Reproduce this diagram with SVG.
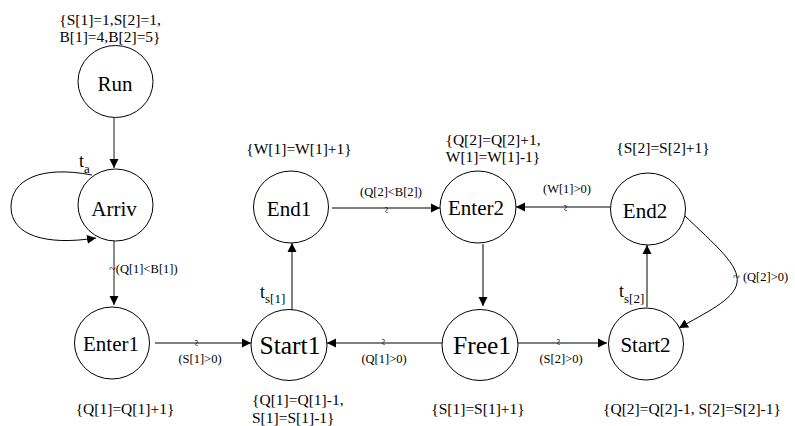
<svg xmlns="http://www.w3.org/2000/svg" width="795" height="426" viewBox="0 0 795 426" font-family="'Liberation Serif', 'DejaVu Serif', serif">
  <style>
    .node ellipse { fill: #fff; stroke: #000; stroke-width: 1; }
    .nl { font-size: 21px; text-anchor: middle; }
    .nl-big { font-size: 25.5px; text-anchor: middle; }
    .ann { font-size: 15.5px; }
    .mid { text-anchor: middle; }
    .el { font-size: 12.5px; }
    .tl { font-size: 18px; }
    .sub { font-size: 13px; }
    .edge { fill: none; stroke: #000; stroke-width: 1; }
    .edge-gray { fill: none; stroke: #6e6e6e; stroke-width: 1.6; }
    .tilde { font-size: 12px; text-anchor: middle; }
  </style>
  <defs>
    <marker id="arrow" viewBox="0 0 10 10" refX="10" refY="5" markerUnits="userSpaceOnUse" markerWidth="9" markerHeight="11" orient="auto">
      <path d="M0,0 L10,5 L0,10 z" fill="#000"/>
    </marker>
  </defs>

  <!-- initial state annotation -->
  <text class="ann mid" x="110" y="25">{S[1]=1,S[2]=1,</text>
  <text class="ann mid" x="110" y="42">B[1]=4,B[2]=5}</text>

  <!-- connectors -->
  <g id="connectors">
    <line class="edge-gray" x1="114" y1="118" x2="114" y2="168" marker-end="url(#arrow)"/>
    <path class="edge" d="M92,175 C40,165 11,180 11,207 C11,235 45,246 96,238" marker-end="url(#arrow)"/>
    <line class="edge-gray" x1="114" y1="241" x2="114" y2="305" marker-end="url(#arrow)"/>
    <line class="edge" x1="155" y1="343" x2="251" y2="343" marker-end="url(#arrow)"/>
    <line class="edge" x1="292" y1="310" x2="292" y2="243" marker-end="url(#arrow)"/>
    <line class="edge" x1="332" y1="208" x2="440" y2="208" marker-end="url(#arrow)"/>
    <line class="edge" x1="483" y1="244" x2="483" y2="306" marker-end="url(#arrow)"/>
    <line class="edge" x1="442" y1="343" x2="327" y2="343" marker-end="url(#arrow)"/>
    <line class="edge" x1="518" y1="343" x2="607" y2="343" marker-end="url(#arrow)"/>
    <line class="edge" x1="647" y1="307" x2="647" y2="245" marker-end="url(#arrow)"/>
    <line class="edge" x1="610" y1="207" x2="516" y2="207" marker-end="url(#arrow)"/>
    <path class="edge" d="M683,214 C715,245 740,265 737,283 C734,300 705,313 679,328" marker-end="url(#arrow)"/>

    <!-- transition labels -->
    <text class="tl" x="79" y="167">t<tspan class="sub" dy="6">a</tspan></text>
    <text class="tl" x="260" y="298">t<tspan class="sub" dy="5">s[1]</tspan></text>
    <text class="tl" x="619" y="297">t<tspan class="sub" dy="6">s[2]</tspan></text>

    <!-- guard conditions -->
    <text class="el" x="109" y="273">~(Q[1]&lt;B[1])</text>
    <text class="el mid" x="200" y="363">(S[1]&gt;0)</text>
    <text class="el mid" x="391" y="196">(Q[2]&lt;B[2])</text>
    <text class="el mid" x="384" y="363">(Q[1]&gt;0)</text>
    <text class="el mid" x="561" y="363">(S[2]&gt;0)</text>
    <text class="el mid" x="567" y="193">(W[1]&gt;0)</text>
    <text class="el" x="733" y="281">~ (Q[2]&gt;0)</text>

    <!-- tilde marks on horizontal connectors -->
    <text class="tilde" transform="translate(195,343) rotate(90)" dy="0.25em">~</text>
    <text class="tilde" transform="translate(385,210) rotate(90)" dy="0.25em">~</text>
    <text class="tilde" transform="translate(382,342) rotate(90)" dy="0.25em">~</text>
    <text class="tilde" transform="translate(557,342) rotate(90)" dy="0.25em">~</text>
    <text class="tilde" transform="translate(564,208) rotate(90)" dy="0.25em">~</text>
  </g>

  <!-- nodes -->
  <g id="Run" class="node">
    <ellipse cx="115.5" cy="81.5" rx="37.5" ry="36"/>
    <text class="nl" x="115" y="91">Run</text>
  </g>
  <g id="Arriv" class="node">
    <ellipse cx="115.5" cy="205" rx="37.5" ry="36"/>
    <text class="nl" x="114" y="216">Arriv</text>
  </g>
  <g id="Enter1" class="node">
    <ellipse cx="112" cy="343" rx="37.5" ry="36"/>
    <text class="nl" x="111" y="351">Enter1</text>
    <text class="ann mid" x="125" y="414">{Q[1]=Q[1]+1}</text>
  </g>
  <g id="Start1" class="node">
    <ellipse cx="289" cy="345" rx="38" ry="35.5"/>
    <text class="nl-big" x="290" y="354">Start1</text>
    <text class="ann" x="252" y="405">{Q[1]=Q[1]-1,</text>
    <text class="ann" x="252" y="423">S[1]=S[1]-1}</text>
  </g>
  <g id="End1" class="node">
    <ellipse cx="291" cy="207" rx="37.5" ry="36"/>
    <text class="nl" x="289" y="216">End1</text>
    <text class="ann mid" x="299" y="154">{W[1]=W[1]+1}</text>
  </g>
  <g id="Enter2" class="node">
    <ellipse cx="478" cy="207" rx="38" ry="36"/>
    <text class="nl" x="476" y="215">Enter2</text>
    <text class="ann mid" x="493" y="145">{Q[2]=Q[2]+1,</text>
    <text class="ann mid" x="493" y="162">W[1]=W[1]-1}</text>
  </g>
  <g id="Free1" class="node">
    <ellipse cx="480" cy="345" rx="38" ry="35.5"/>
    <text class="nl-big" x="482" y="354">Free1</text>
    <text class="ann mid" x="478" y="414">{S[1]=S[1]+1}</text>
  </g>
  <g id="End2" class="node">
    <ellipse cx="648" cy="209" rx="37.5" ry="36"/>
    <text class="nl" x="645" y="218">End2</text>
    <text class="ann mid" x="663" y="153">{S[2]=S[2]+1}</text>
  </g>
  <g id="Start2" class="node">
    <ellipse cx="646" cy="344" rx="37.5" ry="36"/>
    <text class="nl" x="645.5" y="352">Start2</text>
    <text class="ann mid" x="692" y="414">{Q[2]=Q[2]-1, S[2]=S[2]-1}</text>
  </g>
</svg>
